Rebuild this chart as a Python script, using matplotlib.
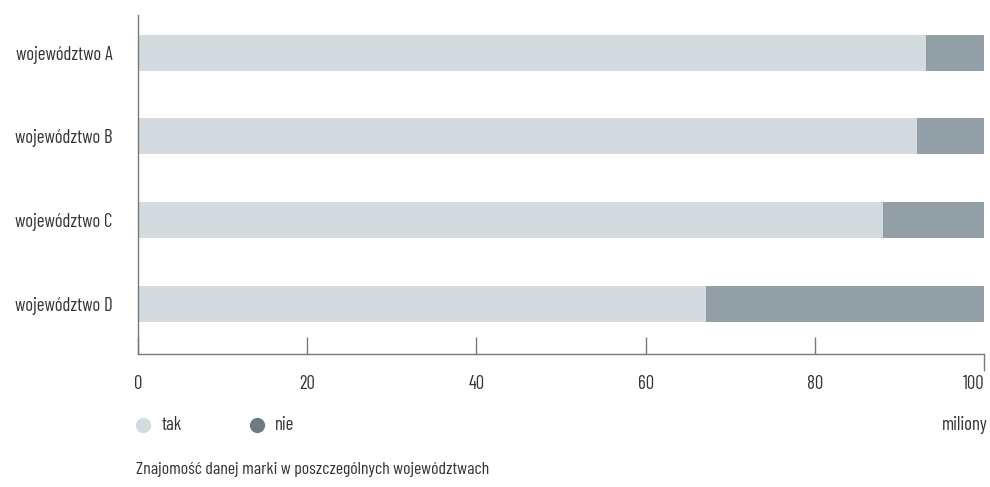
import matplotlib
matplotlib.use("Agg")
import matplotlib.pyplot as plt
import matplotlib.lines as mlines
from matplotlib.lines import Line2D

plt.rcParams['font.family'] = ['Barlow Condensed', 'DejaVu Sans']

# brand awareness per region, millions
regions = ["województwo A", "województwo B", "województwo C", "województwo D"]
tak = [93.1, 92.1, 88.1, 67.1]
nie = [6.9, 7.9, 11.9, 32.9]
x_ticks = [0, 20, 40, 60, 80, 100]
legend_labels = ["tak", "nie"]

c_tak = "#d4dbde"
c_nie = "#939fa6"
c_nie_dot = "#6e7b83"
c_text = "#333333"
c_axis = "#7a7a7a"
fs = 13.5

fig = plt.figure(figsize=(9.9, 4.87), dpi=100)
ax = fig.add_axes([0.1394, 0.2731, 0.8545, 0.6961])

pos = list(range(len(regions)))
ax.barh(pos, tak, height=0.43, color=c_tak, linewidth=0)
ax.barh(pos, nie, left=tak, height=0.43, color=c_nie, linewidth=0)

ax.set_xlim(0, 100)
ax.set_ylim(3.6, -0.45)
ax.set_yticks(pos)
ax.set_yticklabels(regions, fontsize=fs, color=c_text)
ax.tick_params(axis='y', length=0, pad=18.5)

ax.set_xticks(x_ticks)
labels = ax.set_xticklabels([str(v) for v in x_ticks], fontsize=fs, color=c_text)
labels[-1].set_ha('right')
labels[-1].set_x(100)
ax.tick_params(axis='x', direction='in', length=12, width=1, color=c_axis, pad=15)
# last tick hangs below the axis
ax.xaxis.get_major_ticks()[-1].tick1line.set_marker(mlines.TICKDOWN)

for s in ("top", "right"):
    ax.spines[s].set_visible(False)
for s in ("left", "bottom"):
    ax.spines[s].set_color(c_axis)
    ax.spines[s].set_linewidth(1)

# legend row under the axis
ly = 0.1273
for cx, tx, col, lab in [(0.1444, 0.1636, c_tak, legend_labels[0]),
                         (0.2596, 0.2778, c_nie_dot, legend_labels[1])]:
    fig.add_artist(Line2D([cx], [ly], transform=fig.transFigure, marker='o',
                          linestyle='none', markersize=11,
                          markerfacecolor=col, markeredgewidth=0))
    fig.text(tx, ly, lab, ha='left', va='center', fontsize=fs, color=c_text)

fig.text(0.998, ly, "miliony", ha='right', va='center',
         fontsize=fs, color=c_text)
fig.text(0.137, 0.035, "Znajomość danej marki w poszczególnych województwach",
         ha='left', va='center', fontsize=12.8, color=c_text)

fig.savefig("out.png", dpi=100)
